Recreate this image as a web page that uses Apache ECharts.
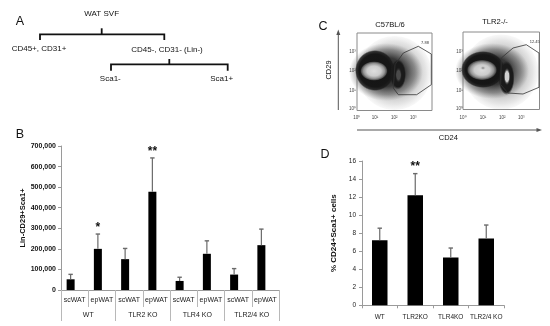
<!DOCTYPE html>
<html>
<head>
<meta charset="utf-8">
<script src="https://cdn.jsdelivr.net/npm/echarts@6/dist/echarts.min.js"></script>
<style>html,body{margin:0;padding:0;background:#fff}#c{width:550px;height:326px}</style>
</head>
<body>
<div id="c"></div>
<script>
// ---- Panel B data ----
var catsB = ['scWAT','epWAT','scWAT','epWAT','scWAT','epWAT','scWAT','epWAT'];
var groupsB = ['WT','TLR2 KO','TLR4 KO','TLR2/4 KO'];
var valsB = [52000, 200000, 150000, 477000, 44000, 176000, 75000, 218000];
var errB  = [24000, 72000, 52000, 165000, 18000, 63000, 29000, 78000];
var sigB  = ['', '*', '', '**', '', '', '', ''];
var ticksB = [0, 100000, 200000, 300000, 400000, 500000, 600000, 700000];
// ---- Panel D data ----
var catsD = ['WT','TLR2KO','TLR4KO','TLR2/4 KO'];
var valsD = [7.2, 12.2, 5.3, 7.4];
var errD  = [1.35, 2.4, 1.05, 1.5];
var sigD  = ['', '**', '', ''];
var ticksD = [0, 2, 4, 6, 8, 10, 12, 14, 16];
// ---- Panel C labels ----
var flowTitles = ['C57BL/6', 'TLR2-/-'];
var gateValues = ['7.88', '12.45'];
var logTicks = ['10\u2070','10\u00b9','10\u00b2','10\u00b3'];

var FONT = '"Liberation Sans", Arial, sans-serif';
var chart = echarts.init(document.getElementById('c'), null, {renderer:'canvas'});

function errRender(offset, sig) {
  return function (params, api) {
    var i = api.value(0), v = api.value(1), e = api.value(2);
    var p = api.coord([i, v]);
    var t = api.coord([i, v + e]);
    var x = p[0] + offset;
    var children = [
      {type:'line', shape:{x1:x, y1:p[1], x2:x, y2:t[1]}, style:{stroke:'#6a6a6a', lineWidth:1.2}},
      {type:'line', shape:{x1:x-2.2, y1:t[1], x2:x+2.2, y2:t[1]}, style:{stroke:'#6a6a6a', lineWidth:1.4}}
    ];
    if (sig[i]) {
      children.push({type:'text', style:{text:sig[i], x:x, y:t[1]-6.5, textAlign:'center', textVerticalAlign:'middle',
        font:'bold 12px ' + FONT, fill:'#111'}});
    }
    return {type:'group', children:children};
  };
}

function ell(cx, cy, rx, ry, fill) {
  return {type:'circle', x:cx, y:cy, scaleX:rx/20, scaleY:ry/20, shape:{cx:0, cy:0, r:20}, style:{fill:fill}, silent:true};
}
function rg(stops) {
  return {type:'radial', x:0.5, y:0.5, r:0.5, colorStops:stops.map(function(s){return {offset:s[0], color:s[1]};})};
}
function txt(t, x, y, size, opts) {
  opts = opts || {};
  return {type:'text', x:x, y:y, rotation:opts.rot||0, style:{text:t, x:0, y:0, textAlign:opts.align||'center', textVerticalAlign:'middle',
    font:(opts.bold?'bold ':'') + size + 'px ' + (opts.font||FONT), fill:opts.fill||'#111'}, silent:true};
}
function pl(points, w, color) {
  return {type:'polyline', shape:{points:points}, style:{stroke:color||'#111', lineWidth:w||1, fill:null}, silent:true};
}

var flowPlots = [
  {box:[357,33,75,77.5], haze:[394.5,73,37,37], band:[386,72,37,29], outer:[375,70.5,20,20.5], inner:[374,71,14,10],
   b2:[398,74.5,8,15], b2c:[398.5,75,3.5,8,'#4a4a4a'], spot:null,
   gate:[[395,64.7],[403.3,53],[418.3,46.3],[431.3,54],[431.3,84.7],[416.7,94.7],[398.3,94.7],[393.3,88],[395,64.7]],
   gl:[425,43], xt:[356.7,375,394.3,413.3], yx:352.5, title:[390,25]},
  {box:[463,32,76.5,77.5], haze:[501,72,37.5,37.5], band:[492,71,37,28], outer:[483,69.5,22,18.5], inner:[482,70,15.5,10.5],
   b2:[506.5,78,8,17], b2c:[507,76.5,3.5,9,'#d0d0d0'], spot:[483,68,3,2.2],
   gate:[[501.3,58],[513,48],[526.3,44.7],[539,53],[539,87.3],[523,94],[508,93],[500.7,84.7],[501.3,58]],
   gl:[534.7,42], xt:[463,483,502.3,521.3], yx:459.5, title:[495,22]}
];

var graphics = [];
// panel letters
graphics.push(txt('A', 20, 22, 12.5));
graphics.push(txt('B', 20, 135, 12.5));
graphics.push(txt('C', 323, 27, 12.5));
graphics.push(txt('D', 325, 155, 12.5));
// panel A tree
graphics.push(txt('WAT SVF', 101.7, 14, 8));
graphics.push(pl([[40,40],[40,34.3],[164.3,34.3],[164.3,40]], 1.8));
graphics.push(pl([[101.7,34.3],[101.7,28.3]], 1.8));
graphics.push(txt('CD45+, CD31+', 39, 48.3, 8));
graphics.push(txt('CD45-, CD31- (Lin-)', 167, 50, 8));
graphics.push(pl([[111,70.7],[111,64.3],[227.7,64.3],[227.7,70.7]], 1.8));
graphics.push(pl([[169.3,64.3],[169.3,59]], 1.8));
graphics.push(txt('Sca1-', 110.3, 79, 8));
graphics.push(txt('Sca1+', 221.7, 79, 8));
// panel C
flowPlots.forEach(function (f, k) {
  var b = f.box;
  graphics.push({type:'rect', shape:{x:b[0], y:b[1], width:b[2], height:b[3]}, style:{fill:'#fff', stroke:'#8a8a8a', lineWidth:1}, silent:true});
  graphics.push(ell(f.haze[0], f.haze[1], f.haze[2], f.haze[3], rg([[0,'rgba(90,90,90,0.7)'],[0.6,'rgba(130,130,130,0.5)'],[0.85,'rgba(170,170,170,0.3)'],[1,'rgba(200,200,200,0.12)']])));
  graphics.push(ell(f.band[0], f.band[1], f.band[2], f.band[3], rg([[0,'rgba(20,20,20,0.95)'],[0.5,'rgba(35,35,35,0.85)'],[0.78,'rgba(80,80,80,0.5)'],[1,'rgba(120,120,120,0)']])));
  graphics.push(ell(f.outer[0], f.outer[1], f.outer[2], f.outer[3], rg([[0,'#141414'],[0.8,'#161616'],[0.93,'rgba(25,25,25,0.8)'],[1,'rgba(40,40,40,0)']])));
  graphics.push(ell(f.b2[0], f.b2[1], f.b2[2], f.b2[3], rg([[0,'#1a1a1a'],[0.82,'#1a1a1a'],[1,'rgba(30,30,30,0)']])));
  graphics.push(ell(f.inner[0], f.inner[1], f.inner[2], f.inner[3], rg([[0,'#dedede'],[0.5,'#cccccc'],[0.75,'#939393'],[0.9,'#505050'],[1,'rgba(20,20,20,0)']])));
  graphics.push(ell(f.b2c[0], f.b2c[1], f.b2c[2], f.b2c[3], rg([[0,f.b2c[4]],[0.55,f.b2c[4]],[1,'rgba(30,30,30,0)']])));
  if (f.spot) graphics.push(ell(f.spot[0], f.spot[1], f.spot[2], f.spot[3], rg([[0,'#777'],[1,'rgba(200,200,200,0)']])));
  graphics.push(pl(f.gate, 0.8, '#333'));
  graphics.push(txt(gateValues[k], f.gl[0], f.gl[1], 4, {fill:'#333'}));
  f.xt.forEach(function (x, j) { graphics.push(txt(logTicks[j], x, 117.3, 4.5, {fill:'#444'})); });
  [109,90.7,70.7,52].forEach(function (y, j) { graphics.push(txt(logTicks[j], f.yx, y, 4.5, {fill:'#444'})); });
  graphics.push(txt(flowTitles[k], f.title[0], f.title[1], 7.6));
});
graphics.push(pl([[338.3,110],[338.3,33]], 1, '#555'));
graphics.push({type:'polygon', shape:{points:[[338.3,29.5],[336.3,35],[340.3,35]]}, style:{fill:'#555'}, silent:true});
graphics.push(pl([[357,130],[538,130]], 1, '#555'));
graphics.push({type:'polygon', shape:{points:[[542,130],[536.5,128],[536.5,132]]}, style:{fill:'#555'}, silent:true});
graphics.push(txt('CD29', 329.3, 70, 7.5, {rot:Math.PI/2}));
graphics.push(txt('CD24', 448.3, 138.3, 7.5));

var option = {
  animation: false,
  backgroundColor: '#fff',
  grid: [
    {left:61, top:146, width:218, height:144, containLabel:false, outerBoundsMode:'none'},
    {left:362, top:161, width:142, height:144.3, containLabel:false, outerBoundsMode:'none'}
  ],
  xAxis: [
    {type:'category', gridIndex:0, data:catsB, position:'bottom',
     axisLine:{lineStyle:{color:'#9a9a9a', width:1}},
     axisTick:{show:true, interval:0, length:17, lineStyle:{color:'#b8b8b8'}},
     axisLabel:{interval:0, margin:7, fontSize:7, fontFamily:FONT, color:'#222'}},
    {type:'category', gridIndex:0, data:groupsB, position:'bottom',
     axisLine:{show:false},
     axisTick:{show:true, interval:0, length:31, lineStyle:{color:'#b8b8b8'}},
     axisLabel:{interval:0, margin:22, fontSize:7, fontFamily:FONT, color:'#222'}},
    {type:'category', gridIndex:1, data:catsD, position:'bottom',
     axisLine:{lineStyle:{color:'#9a9a9a', width:1}},
     axisTick:{show:true, interval:0, length:3, lineStyle:{color:'#9a9a9a'}},
     axisLabel:{interval:0, margin:8, fontSize:6.5, fontFamily:FONT, color:'#222'}}
  ],
  yAxis: [
    {type:'value', gridIndex:0, min:ticksB[0], max:ticksB[ticksB.length-1], interval:ticksB[1]-ticksB[0],
     name:'Lin-CD29+Sca1+', nameLocation:'middle', nameRotate:90, nameGap:30,
     nameTextStyle:{fontSize:7.5, fontWeight:'bold', fontFamily:FONT, color:'#111'},
     axisLine:{show:true, lineStyle:{color:'#9a9a9a'}},
     axisTick:{show:true, length:3, lineStyle:{color:'#9a9a9a'}},
     splitLine:{show:false},
     axisLabel:{margin:5, fontSize:7, fontWeight:'bold', fontFamily:FONT, color:'#111',
       formatter:function (v) { return v.toLocaleString('en-US'); }}},
    {type:'value', gridIndex:1, min:ticksD[0], max:ticksD[ticksD.length-1], interval:ticksD[1]-ticksD[0],
     name:'% CD24+Sca1+ cells', nameLocation:'middle', nameRotate:90, nameGap:24,
     nameTextStyle:{fontSize:8, fontWeight:'bold', fontFamily:FONT, color:'#111'},
     axisLine:{show:true, lineStyle:{color:'#9a9a9a'}},
     axisTick:{show:true, length:3, lineStyle:{color:'#9a9a9a'}},
     splitLine:{show:false},
     axisLabel:{margin:6, fontSize:6.5, fontFamily:FONT, color:'#222'}}
  ],
  series: [
    {type:'bar', xAxisIndex:0, yAxisIndex:0, data:valsB, barWidth:8, barGap:'0%', itemStyle:{color:'#000'}, z:2},
    {type:'bar', xAxisIndex:0, yAxisIndex:0, data:valsB.map(function(){return null;}), barWidth:8, barGap:'0%', itemStyle:{color:'rgba(0,0,0,0)'}},
    {type:'custom', xAxisIndex:0, yAxisIndex:0, renderItem:errRender(-4, sigB), z:3,
     data:valsB.map(function (v, i) { return [i, v, errB[i]]; }), encode:{x:0, y:1}},
    {type:'bar', xAxisIndex:2, yAxisIndex:1, data:valsD, barWidth:15.5, itemStyle:{color:'#000'}, z:2},
    {type:'custom', xAxisIndex:2, yAxisIndex:1, renderItem:errRender(0, sigD), z:3,
     data:valsD.map(function (v, i) { return [i, v, errD[i]]; }), encode:{x:0, y:1}}
  ],
  graphic: graphics
};
chart.setOption(option);
</script>
</body>
</html>
